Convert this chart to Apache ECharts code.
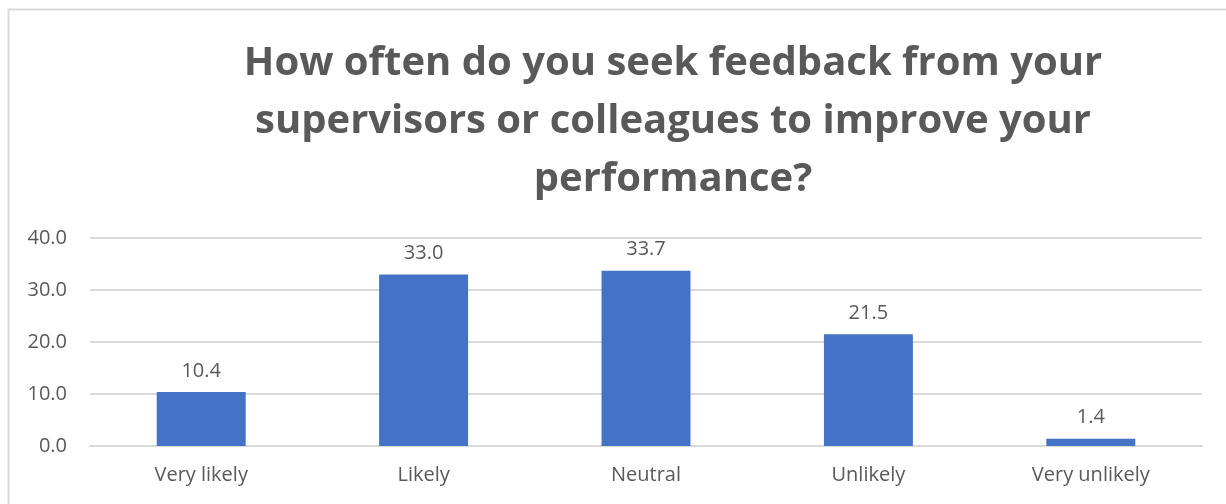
<!DOCTYPE html>
<html>
<head>
<meta charset="utf-8">
<script src="https://cdn.jsdelivr.net/npm/echarts@6/dist/echarts.min.js"></script>
<style>
  html, body { margin: 0; padding: 0; background: #fff; }
  #chart { width: 1226px; height: 504px; }
</style>
</head>
<body>
<div id="chart"></div>
<script>
const categories = ['Very likely', 'Likely', 'Neutral', 'Unlikely', 'Very unlikely'];
const percentages = [10.4, 33.0, 33.7, 21.5, 1.4];
const titleLines = [
  'How often do you seek feedback from your',
  'supervisors or colleagues to improve your',
  'performance?'
];

const chart = echarts.init(document.getElementById('chart'));
const textColor = '#595959';
const fontFamily = 'Open Sans, sans-serif';

chart.setOption({
  animation: false,
  title: {
    text: titleLines.join('\n'),
    left: 668,
    top: 30,
    textAlign: 'center',
    textStyle: {
      color: textColor,
      fontFamily: fontFamily,
      fontWeight: 'bold',
      fontSize: 40,
      lineHeight: 58
    }
  },
  graphic: [{
    type: 'polyline',
    shape: { points: [[8.5, 520], [8.5, 9.5], [1240, 9.5]] },
    style: { stroke: '#d9d9d9', lineWidth: 2, fill: null },
    silent: true
  }],
  grid: { left: 90, right: 24, top: 238, bottom: 58 },
  xAxis: {
    type: 'category',
    data: categories,
    axisLine: { lineStyle: { color: '#d9d9d9', width: 2 } },
    axisTick: { show: false },
    axisLabel: {
      color: textColor,
      fontFamily: fontFamily,
      fontSize: 20,
      margin: 19
    }
  },
  yAxis: {
    type: 'value',
    min: 0,
    max: 40,
    interval: 10,
    axisLine: { show: false },
    axisTick: { show: false },
    splitLine: { lineStyle: { color: '#d9d9d9', width: 2 } },
    axisLabel: {
      color: textColor,
      fontFamily: fontFamily,
      fontSize: 20,
      margin: 23,
      formatter: v => v.toFixed(1)
    }
  },
  series: [{
    type: 'bar',
    data: percentages,
    barWidth: '40%',
    itemStyle: { color: '#4472C4' },
    label: {
      show: true,
      position: 'top',
      distance: 11,
      color: textColor,
      fontFamily: fontFamily,
      fontSize: 20,
      formatter: p => p.value.toFixed(1)
    }
  }]
});
</script>
</body>
</html>
